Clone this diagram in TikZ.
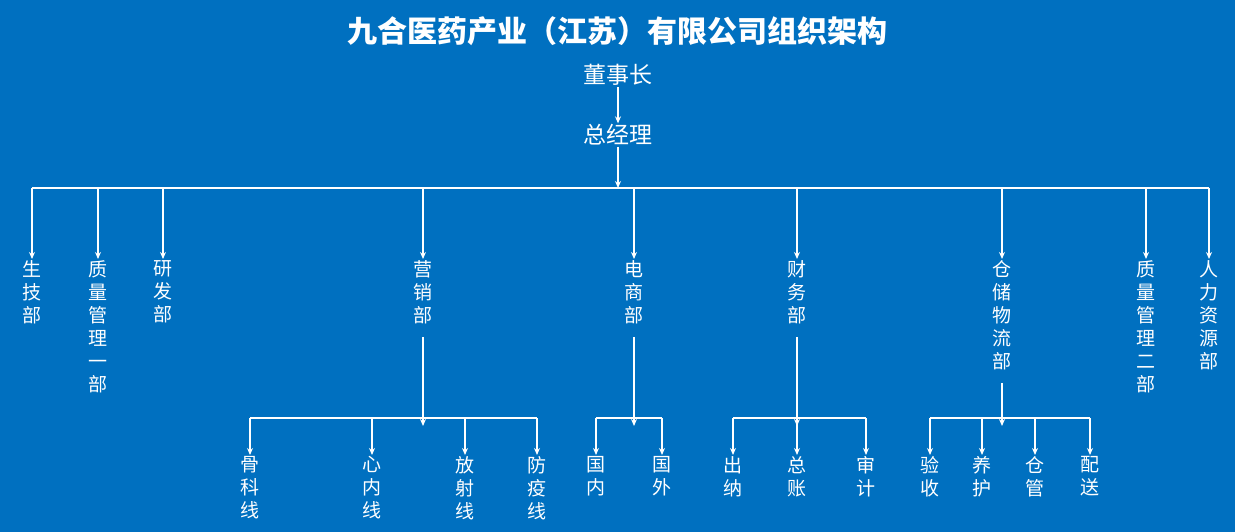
\documentclass[tikz,border=0pt]{standalone}
\usepackage{fontspec}
\setmainfont{Noto Sans CJK SC}
\usetikzlibrary{arrows.meta}
\definecolor{bg}{RGB}{0,112,192}
\begin{document}
\begin{tikzpicture}[x=1pt,y=-1pt,
  lab/.style={text=white,font=\fontsize{19}{23}\selectfont,align=center,inner sep=1pt,anchor=north},
  arr/.style={draw=white,line width=1.3pt,-{Stealth[length=7pt,width=6pt]}},
  ln/.style={draw=white,line width=1.3pt}]
\fill[bg] (0,0) rectangle (1235,532);
\node[text=white,font=\fontsize{30}{34}\selectfont\bfseries] (t) at (617,31) {九合医药产业（江苏）有限公司组织架构};
\node[lab,anchor=center,font=\fontsize{23}{26}\selectfont] (dsz) at (618,75) {董事长};
\node[lab,anchor=center,font=\fontsize{23}{26}\selectfont] (zjl) at (618,135) {总经理};
\draw[arr] (dsz.south) -- (zjl.north);
\coordinate (h) at (618,188);
\draw[arr] (zjl.south) -- (h);
\draw[ln] (32,188) -- (1209,188);
\foreach \n/\x/\t in {a/32/生\\技\\部, b/98/质\\量\\管\\理\\一\\部, c/163/研\\发\\部, d/423/营\\销\\部, e/634/电\\商\\部, f/797/财\\务\\部, g/1002/仓\\储\\物\\流\\部, h2/1146/质\\量\\管\\理\\二\\部, i/1209/人\\力\\资\\源\\部}{
  \coordinate (top\n) at (\x,188);
  \node[lab] (\n) at (\x,259) {\t};
  \draw[arr] (top\n) -- (\n.north);
}
\foreach \p/\y/\l/\r in {d/418/250/537, e/418/596/662, f/418/733/866, g/418/930/1090}{
  \coordinate (j\p) at (\p.south |- 0,\y);
  \draw[arr] (\p.south) ++(0,12) -- ([yshift=-8pt]j\p);
  \draw[ln] (\l,\y) -- (\r,\y);
}
\foreach \n/\x/\t in {d1/250/骨\\科\\线, d2/372/心\\内\\线, d3/465/放\\射\\线, d4/537/防\\疫\\线, e1/596/国\\内, e2/662/国\\外, f1/733/出\\纳, f2/797/总\\账, f3/866/审\\计, g1/930/验\\收, g2/982/养\\护, g3/1035/仓\\管, g4/1090/配\\送}{
  \coordinate (s\n) at (\x,418);
  \node[lab] (\n) at (\x,455) {\t};
  \draw[arr] (s\n) -- (\n.north);
}
\end{tikzpicture}
\end{document}
